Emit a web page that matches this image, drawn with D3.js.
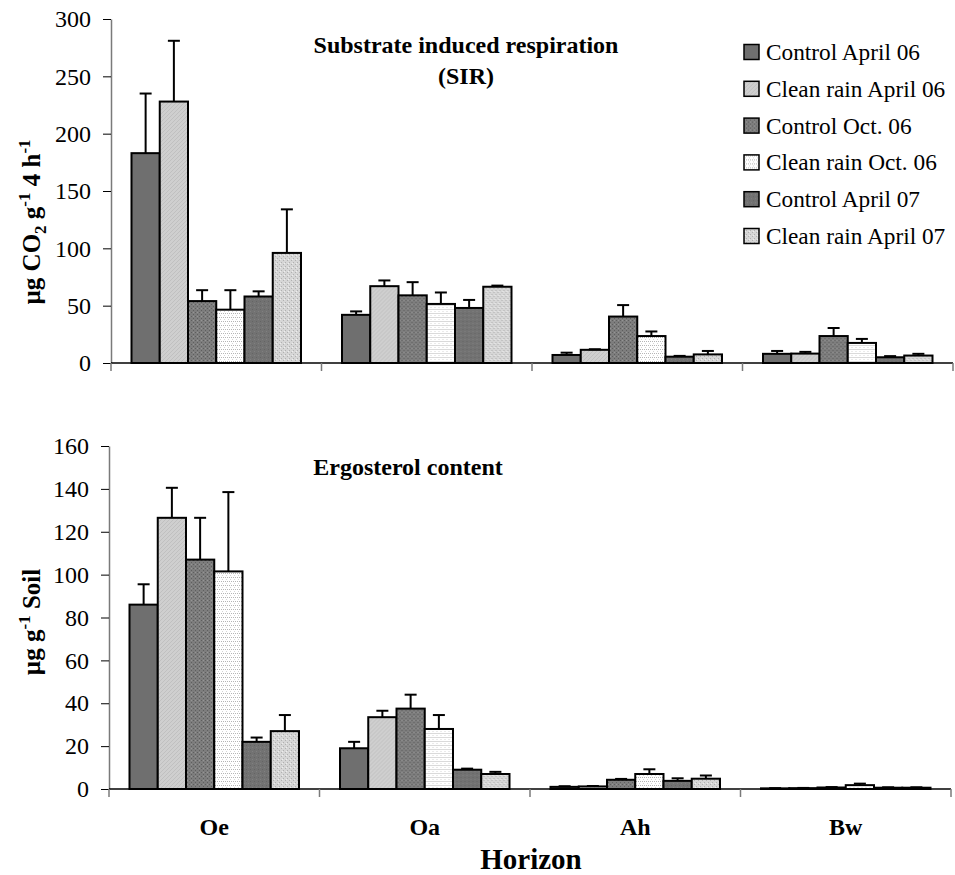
<!DOCTYPE html>
<html><head><meta charset="utf-8">
<script src="https://cdn.jsdelivr.net/npm/d3@7/dist/d3.min.js"></script>
<style>
html,body{margin:0;padding:0;background:#fff;}
svg{display:block;font-family:"Liberation Serif","Times New Roman",serif;}
</style></head>
<body><svg id="chart" width="955" height="875"></svg>
<script>
// ---------- DATA ----------
const horizons = ["Oe", "Oa", "Ah", "Bw"];
const seriesNames = ["Control April 06", "Clean rain April 06", "Control Oct. 06",
                     "Clean rain Oct. 06", "Control April 07", "Clean rain April 07"];
// SIR (µg CO2 g-1 4 h-1), rows = horizons, columns = series
const sirMean = [
  [183, 228, 54, 46.5, 58, 96],
  [42, 67, 59, 51.5, 48, 66.5],
  [7, 11.5, 40.5, 23.5, 5.5, 7.5],
  [8, 8.2, 23.5, 17.5, 5, 6.5]
];
const sirErr = [
  [52, 53, 9.5, 17, 4.5, 38],
  [3, 5, 11.5, 10, 7, 1],
  [2, 0.5, 10, 4, 0.7, 3],
  [2.5, 1.5, 7, 3.5, 1, 1.5]
];
// Ergosterol (µg g-1 soil)
const ergMean = [
  [86, 126.5, 107, 101.5, 22, 27],
  [19, 33.5, 37.5, 28, 9, 7],
  [1.0, 1.2, 4.3, 7, 3.8, 4.8],
  [0.3, 0.4, 0.7, 1.8, 0.6, 0.6]
];
const ergErr = [
  [9.5, 14, 19.5, 37, 2, 7.5],
  [3, 3, 6.5, 6.5, 0.5, 1],
  [0.3, 0.2, 0.4, 2.2, 1.2, 1.5],
  [0.1, 0.1, 0.2, 0.7, 0.2, 0.2]
];
const sirTicks = [0, 50, 100, 150, 200, 250, 300];
const ergTicks = [0, 20, 40, 60, 80, 100, 120, 140, 160];

// ---------- DRAWING ----------
const svg = d3.select("#chart");
const defs = svg.append("defs");

function pat(id, bg, draw) {
  const p = defs.append("pattern").attr("id", id).attr("patternUnits", "userSpaceOnUse")
    .attr("width", 4).attr("height", 4);
  p.append("rect").attr("width", 4).attr("height", 4).attr("fill", bg);
  draw(p);
}
pat("p0", "#6f6f6f", p => {});
pat("p1", "#cfcfcf", p => {
  p.append("path").attr("d", "M0,4 L4,0").attr("stroke", "#bdbdbd").attr("stroke-width", 0.8);
});
pat("p2", "#7d7d7d", p => {
  p.append("rect").attr("x", 0).attr("y", 0).attr("width", 1).attr("height", 1).attr("fill", "#5e5e5e");
  p.append("rect").attr("x", 2).attr("y", 2).attr("width", 1).attr("height", 1).attr("fill", "#5e5e5e");
  p.append("rect").attr("x", 2).attr("y", 0).attr("width", 1).attr("height", 1).attr("fill", "#959595");
});
pat("p3", "#ffffff", p => {
  p.append("rect").attr("x", 0).attr("y", 1).attr("width", 1).attr("height", 1).attr("fill", "#b5b5b5");
  p.append("rect").attr("x", 2).attr("y", 1).attr("width", 1).attr("height", 1).attr("fill", "#b5b5b5");
  p.append("rect").attr("x", 1).attr("y", 3).attr("width", 1).attr("height", 1).attr("fill", "#d5d5d5");
});
pat("p4", "#727272", p => {
  p.append("rect").attr("x", 1).attr("y", 1).attr("width", 1).attr("height", 1).attr("fill", "#646464");
  p.append("rect").attr("x", 3).attr("y", 3).attr("width", 1).attr("height", 1).attr("fill", "#808080");
});
pat("p5", "#d6d6d6", p => {
  p.append("rect").attr("x", 0).attr("y", 0).attr("width", 1).attr("height", 1).attr("fill", "#b0b0b0");
  p.append("rect").attr("x", 2).attr("y", 2).attr("width", 1).attr("height", 1).attr("fill", "#b0b0b0");
  p.append("rect").attr("x", 1).attr("y", 3).attr("width", 1).attr("height", 1).attr("fill", "#eeeeee");
});
const fills = seriesNames.map((d, i) => `url(#p${i})`);

const axisColor = "#7a7a7a";

function panel(means, errs, xRange, yDomain, yRange, ticks) {
  const x0 = d3.scaleBand().domain(horizons).range(xRange).paddingInner(0).paddingOuter(0);
  const x1 = d3.scaleBand().domain(d3.range(seriesNames.length))
    .range([20.5, x0.bandwidth() - 20.5]).padding(0);
  const y = d3.scaleLinear().domain(yDomain).range(yRange);
  const g = svg.append("g");
  horizons.forEach((h, hi) => {
    const gg = g.append("g").attr("transform", `translate(${x0(h)},0)`);
    gg.selectAll("rect").data(means[hi]).join("rect")
      .attr("x", (d, i) => x1(i))
      .attr("y", d => y(d))
      .attr("width", x1.bandwidth())
      .attr("height", d => y(0) - y(d))
      .attr("fill", (d, i) => fills[i])
      .attr("stroke", "#000").attr("stroke-width", 2);
    const eb = gg.selectAll("g.eb").data(means[hi].map((m, i) => ({m, e: errs[hi][i], i})))
      .join("g").attr("class", "eb");
    eb.append("line")
      .attr("x1", d => x1(d.i) + x1.bandwidth() / 2).attr("x2", d => x1(d.i) + x1.bandwidth() / 2)
      .attr("y1", d => y(d.m)).attr("y2", d => y(d.m + d.e))
      .attr("stroke", "#000").attr("stroke-width", 2);
    eb.append("line")
      .attr("x1", d => x1(d.i) + x1.bandwidth() / 2 - 6).attr("x2", d => x1(d.i) + x1.bandwidth() / 2 + 6)
      .attr("y1", d => y(d.m + d.e)).attr("y2", d => y(d.m + d.e))
      .attr("stroke", "#000").attr("stroke-width", 2);
  });
  const ya = g.append("g").attr("transform", `translate(${xRange[0]},0)`)
    .call(d3.axisLeft(y).tickValues(ticks).tickSize(8).tickPadding(12).tickSizeOuter(0));
  ya.select(".domain").attr("stroke", axisColor).attr("stroke-width", 1.5);
  ya.selectAll(".tick line").attr("stroke", "#000").attr("stroke-width", 1);
  ya.selectAll(".tick text").attr("font-family", "Liberation Serif").attr("font-size", 24).attr("fill", "#000");
  const bounds = horizons.map(h => x0(h)).concat([x0.range()[1]]);
  g.append("line").attr("x1", xRange[0]).attr("x2", xRange[1])
    .attr("y1", y(0)).attr("y2", y(0)).attr("stroke", "#000").attr("stroke-width", 1.5);
  g.selectAll("line.xt").data(bounds).join("line").attr("class", "xt")
    .attr("x1", d => d).attr("x2", d => d).attr("y1", y(0)).attr("y2", y(0) + 8)
    .attr("stroke", axisColor).attr("stroke-width", 1.5);
  return {x0, y};
}

panel(sirMean, sirErr, [111, 953], [0, 300], [363, 19], sirTicks);
const bottom = panel(ergMean, ergErr, [109, 951], [0, 160], [789, 446], ergTicks);

// category labels
svg.append("g").selectAll("text").data(horizons).join("text")
  .attr("x", d => bottom.x0(d) + bottom.x0.bandwidth() / 2).attr("y", 835)
  .attr("text-anchor", "middle").attr("font-weight", "bold").attr("font-size", 24).text(d => d);

// axis title
svg.append("text").attr("x", 531).attr("y", 869).attr("text-anchor", "middle")
  .attr("font-weight", "bold").attr("font-size", 29).text("Horizon");

// panel titles
const t1 = svg.append("text").attr("text-anchor", "middle").attr("font-weight", "bold").attr("font-size", 24);
t1.append("tspan").attr("x", 466).attr("y", 53).text("Substrate induced respiration");
t1.append("tspan").attr("x", 466).attr("y", 84).text("(SIR)");
svg.append("text").attr("x", 408).attr("y", 475).attr("text-anchor", "middle")
  .attr("font-weight", "bold").attr("font-size", 24).text("Ergosterol content");

// y axis labels
const yl1 = svg.append("text").attr("transform", "translate(40,222) rotate(-90)")
  .attr("text-anchor", "middle").attr("font-weight", "bold").attr("font-size", 25);
yl1.append("tspan").text("µg CO");
yl1.append("tspan").attr("font-size", 17).attr("dy", 6).text("2");
yl1.append("tspan").attr("dy", -6).text(" g");
yl1.append("tspan").attr("font-size", 17).attr("dy", -10).text("-1");
yl1.append("tspan").attr("dy", 10).text(" 4 h");
yl1.append("tspan").attr("font-size", 17).attr("dy", -10).text("-1");

const yl2 = svg.append("text").attr("transform", "translate(40,622) rotate(-90)")
  .attr("text-anchor", "middle").attr("font-weight", "bold").attr("font-size", 25);
yl2.append("tspan").text("µg g");
yl2.append("tspan").attr("font-size", 17).attr("dy", -10).text("-1");
yl2.append("tspan").attr("dy", 10).text(" Soil");

// legend
const lg = svg.append("g").selectAll("g").data(seriesNames).join("g")
  .attr("transform", (d, i) => `translate(744,${52 + i * 36.8})`);
lg.append("rect").attr("y", -7.5).attr("width", 15).attr("height", 15).attr("fill", (d, i) => fills[i])
  .attr("stroke", "#000").attr("stroke-width", 1.5);
lg.append("text").attr("x", 22).attr("y", 8).attr("font-size", 23.3).text(d => d);
</script>
</body></html>
